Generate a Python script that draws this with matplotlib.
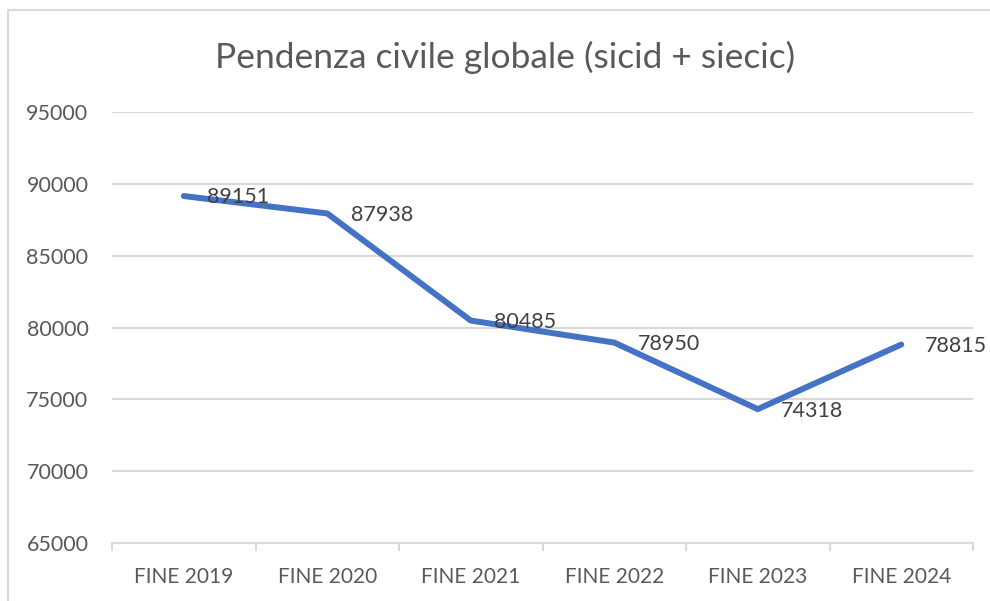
import matplotlib
matplotlib.use("Agg")
import matplotlib.pyplot as plt
from matplotlib.patches import Rectangle
from matplotlib.ticker import FixedLocator

categories = ["FINE 2019", "FINE 2020", "FINE 2021", "FINE 2022", "FINE 2023", "FINE 2024"]
values = [89151, 87938, 80485, 78950, 74318, 78815]
yticks = [65000, 70000, 75000, 80000, 85000, 90000, 95000]
title = "Pendenza civile globale (sicid + siecic)"

plt.rcParams['font.family'] = ['Lato', 'DejaVu Sans']
W, H = 990, 601
fig = plt.figure(figsize=(W / 100, H / 100), dpi=100)
fig.patch.set_facecolor("white")

# chart border (cropped at right/bottom)
fig.patches.append(Rectangle((8 / W, -0.1), 1.2, 1 - 10 / H + 0.1, transform=fig.transFigure,
                             fill=False, edgecolor="#d9d9d9", linewidth=1.5))

ax = fig.add_axes([112 / W, 1 - 543 / H, (973 - 112) / W, (543 - 112) / H])
x = list(range(len(categories)))
ax.plot(x, values, color="#4472C4", linewidth=4.3, solid_capstyle="round", solid_joinstyle="round", zorder=3)
for xi, v in zip(x, values):
    ax.annotate(str(v), (xi, v), xytext=(17, -1), textcoords="offset points",
                ha="left", va="center", fontsize=15.5, color="#404040", zorder=4)

ax.set_xlim(-0.5, len(categories) - 0.5)
ax.set_ylim(65000, 95000)
ax.set_yticks(yticks)
ax.set_yticklabels([str(t) for t in yticks])
ax.set_xticks(x)
ax.set_xticklabels(categories)
ax.xaxis.set_minor_locator(FixedLocator([i - 0.5 for i in range(len(categories) + 1)]))
ax.tick_params(axis="x", which="major", length=0, pad=17, labelsize=15, labelcolor="#595959")
ax.tick_params(axis="x", which="minor", length=6, width=1.5, color="#d9d9d9", direction="out")
ax.tick_params(axis="y", length=0, pad=17, labelsize=15.5, labelcolor="#595959")
ax.grid(axis="y", color="#d9d9d9", linewidth=1.5)
ax.set_axisbelow(True)
for s in ["top", "right", "left"]:
    ax.spines[s].set_visible(False)
ax.spines["bottom"].set_color("#d9d9d9")
ax.spines["bottom"].set_linewidth(1.5)

fig.text(505 / W, 1 - 57 / H, title, ha="center", va="center", fontsize=25.5, color="#595959")

fig.savefig("out.png", dpi=100, facecolor="white")
